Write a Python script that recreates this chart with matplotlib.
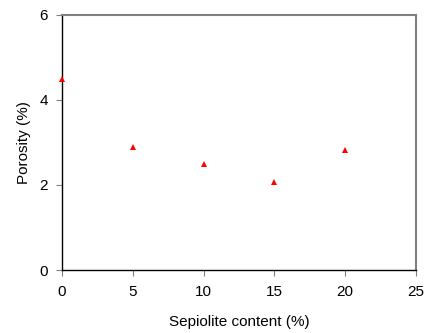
import matplotlib

matplotlib.use("Agg")
import matplotlib.pyplot as plt

plt.rcParams["font.family"] = ["Liberation Sans", "DejaVu Sans"]

sepiolite = [0, 5, 10, 15, 20]
porosity = [4.48, 2.9, 2.48, 2.07, 2.83]
x_ticks = [0, 5, 10, 15, 20, 25]
y_ticks = [0, 2, 4, 6]

fig = plt.figure(figsize=(4.26, 3.33), dpi=100)
ax = fig.add_axes([0.1455, 0.189, 0.831, 0.767])
ax.plot(sepiolite, porosity, linestyle="none", marker="^", color="#ff0000",
        markersize=5, markeredgewidth=0, clip_on=False, zorder=5)

ax.set_xlim(0, 25)
ax.set_ylim(0, 6)
ax.set_xticks(x_ticks)
ax.set_yticks(y_ticks)
ax.tick_params(direction="out", length=4, width=0.8, labelsize=11, color="#808080")
ax.tick_params(axis="x", pad=7)
ax.tick_params(axis="y", pad=6)

for side in ("left", "bottom"):
    ax.spines[side].set_color("black")
    ax.spines[side].set_linewidth(1.0)
for side in ("top", "right"):
    ax.spines[side].set_color("#808080")
    ax.spines[side].set_linewidth(1.5)

ax.set_xlabel("Sepiolite content (%)", fontsize=11, labelpad=11)
ax.set_ylabel("Porosity (%)", fontsize=11, labelpad=6)

fig.savefig("out.png", dpi=100)
